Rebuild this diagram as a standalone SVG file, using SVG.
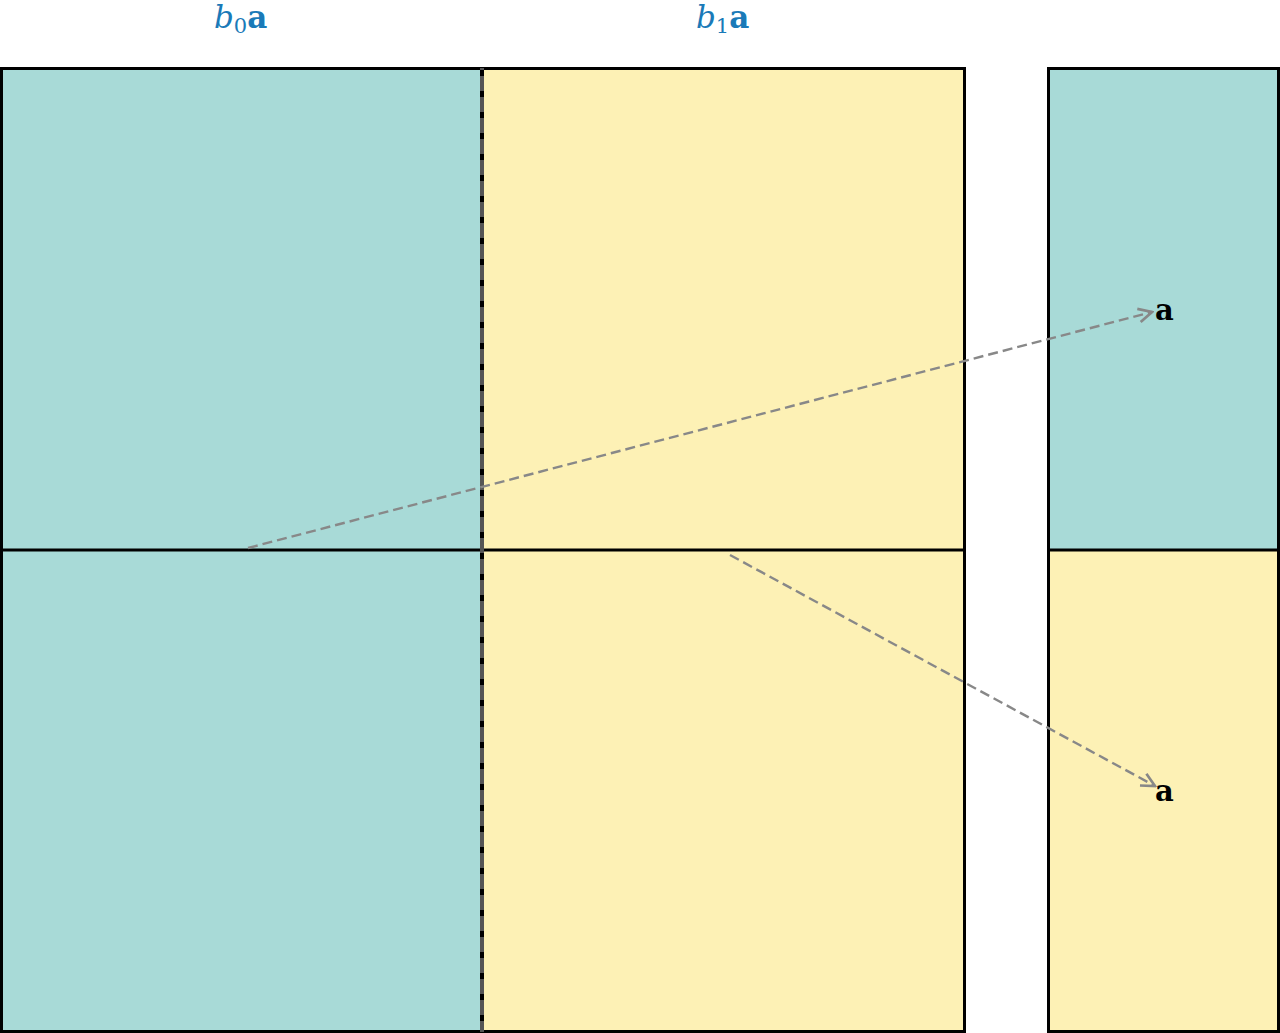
<svg xmlns="http://www.w3.org/2000/svg" width="1280" height="1033" viewBox="0 0 1280 1033">
<style>
.b{stroke:#000;stroke-width:3}
.c{stroke:#888;stroke-width:2.4;stroke-dasharray:10 5;fill:none}
.l{font-family:"DejaVu Serif","Liberation Serif",serif;font-size:31px;fill:#1a7ab8}
.a{font-family:"DejaVu Serif","Liberation Serif",serif;font-size:29px;font-weight:bold;fill:#000}
</style>
<defs><marker id="ah" viewBox="0 0 10 10" refX="9" refY="5" markerWidth="7" markerHeight="7" orient="auto"><path d="M1,1 L9,5 L1,9" fill="none" stroke="#888" stroke-width="1.6"/></marker></defs>
<g id="matrix">
<rect x="1.5" y="68.5" width="481" height="963" fill="#a8dad7"/>
<rect x="482" y="68.5" width="482" height="963" fill="#fdf1b5"/>
<rect x="1.5" y="68.5" width="963" height="963" fill="none" class="b"/>
<line x1="1.5" y1="550" x2="964.5" y2="550" class="b"/>
<line x1="482" y1="68" x2="482" y2="1032" stroke="#555" stroke-width="4"/>
<line x1="482" y1="70" x2="482" y2="1032" stroke="#000" stroke-width="4" stroke-dasharray="6 15"/>
</g>
<g id="vector">
<rect x="1048.5" y="68.5" width="230" height="481.5" fill="#a8dad7"/>
<rect x="1048.5" y="550" width="230" height="481.5" fill="#fdf1b5"/>
<rect x="1048.5" y="68.5" width="230" height="963" fill="none" class="b"/>
<line x1="1048.5" y1="550" x2="1278.5" y2="550" class="b"/>
</g>
<g id="labels">
<text x="214" y="28" class="l"><tspan font-style="italic">b</tspan><tspan font-size="21" dy="5">0</tspan><tspan dy="-5" font-weight="bold">a</tspan></text>
<text x="696" y="28" class="l"><tspan font-style="italic">b</tspan><tspan font-size="21" dy="5">1</tspan><tspan dy="-5" font-weight="bold">a</tspan></text>
<text x="1155" y="320" class="a">a</text>
<text x="1155" y="801" class="a">a</text>
</g>
<g id="connectors">
<line x1="248" y1="548" x2="1152" y2="312" class="c" marker-end="url(#ah)"/>
<line x1="730" y1="555" x2="1155" y2="786" class="c" marker-end="url(#ah)"/>
</g>
</svg>
